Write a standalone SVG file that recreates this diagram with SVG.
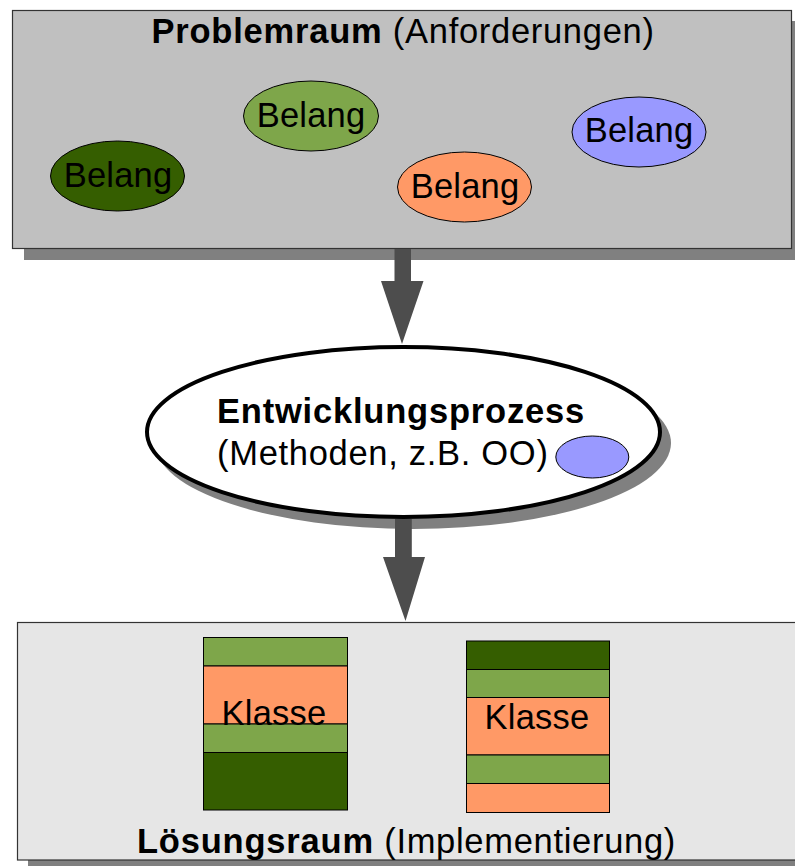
<svg xmlns="http://www.w3.org/2000/svg" width="795" height="866" viewBox="0 0 795 866">
  <style>
    text { font-family: "Liberation Sans", Arial, sans-serif; font-size: 34.5px; fill: #000; letter-spacing: 0.7px; }
    .b { font-weight: bold; letter-spacing: 0.8px; }
    .mid { text-anchor: middle; }
    .lbl { letter-spacing: 0.2px; }
    .shadow { fill: #808080; stroke: none; }
    .space { stroke: #333; stroke-width: 1.2; }
    .belang { stroke: #000; stroke-width: 1; }
    .band { stroke: #000; stroke-width: 1; }
    .dark { fill: #355e00; }
    .light { fill: #7ea64a; }
    .orange { fill: #ff9966; }
    .blue { fill: #9999ff; }
    .arrow { fill: #4d4d4d; stroke: none; }
  </style>

  <rect width="795" height="866" fill="#fff"/>

  <!-- problem space -->
  <g id="problemraum">
    <rect class="shadow" x="24" y="21" width="780" height="239"/>
    <rect class="space" x="12.5" y="10.5" width="779" height="238" fill="#c0c0c0"/>
    <text x="403" y="43" class="mid"><tspan class="b">Problemraum</tspan> (Anforderungen)</text>
  </g>

  <g id="belang-1">
    <ellipse class="belang dark" cx="117.5" cy="176" rx="67" ry="35"/>
    <text x="118" y="187" class="mid lbl">Belang</text>
  </g>
  <g id="belang-2">
    <ellipse class="belang light" cx="311" cy="116" rx="67.5" ry="35"/>
    <text x="311" y="127" class="mid lbl">Belang</text>
  </g>
  <g id="belang-3">
    <ellipse class="belang orange" cx="464.5" cy="187" rx="67" ry="35"/>
    <text x="465" y="197.5" class="mid lbl">Belang</text>
  </g>
  <g id="belang-4">
    <ellipse class="belang blue" cx="639" cy="132" rx="67" ry="35"/>
    <text x="639" y="142" class="mid lbl">Belang</text>
  </g>

  <!-- development process -->
  <g id="entwicklungsprozess">
    <ellipse class="shadow" cx="413" cy="443" rx="258" ry="86"/>
    <ellipse cx="403.5" cy="432" rx="256.5" ry="85" fill="#fff" stroke="#000" stroke-width="4"/>
    <text x="217" y="423" class="b">Entwicklungsprozess</text>
    <text x="217" y="465">(Methoden, z.B. OO)</text>
    <ellipse class="belang blue" cx="592.3" cy="457" rx="36.5" ry="21"/>
  </g>

  <!-- solution space -->
  <g id="loesungsraum">
    <rect class="shadow" x="28" y="633" width="800" height="240"/>
    <rect class="space" x="17.5" y="622.5" width="790" height="237.5" fill="#e6e6e6"/>
    <text x="137" y="852.5"><tspan class="b">Lösungsraum</tspan> (Implementierung)</text>
  </g>

  <g id="klasse-1">
    <rect class="band light" x="203.5" y="637.5" width="144" height="28.5"/>
    <rect class="band orange" x="203.5" y="666" width="144" height="58"/>
    <rect class="band light" x="203.5" y="724" width="144" height="28.5"/>
    <rect class="band dark" x="203.5" y="752.5" width="144" height="57.5"/>
    <text x="274" y="725" class="mid lbl">Klasse</text>
  </g>

  <g id="klasse-2">
    <rect class="band dark" x="466.5" y="641" width="143" height="28.5"/>
    <rect class="band light" x="466.5" y="669.5" width="143" height="28"/>
    <rect class="band orange" x="466.5" y="697.5" width="143" height="57.5"/>
    <rect class="band light" x="466.5" y="755" width="143" height="28.5"/>
    <rect class="band orange" x="466.5" y="783.5" width="143" height="29"/>
    <text x="537" y="729" class="mid lbl">Klasse</text>
  </g>

  <!-- flow arrows -->
  <g id="connectors">
    <path class="arrow" d="M394.5 249 H411 V281 H423.5 L402 344 L381 281 H394.5 Z"/>
    <path class="arrow" d="M395 519 H411.8 V557 H425 L405.5 621 L383 557 H395 Z"/>
  </g>
</svg>
